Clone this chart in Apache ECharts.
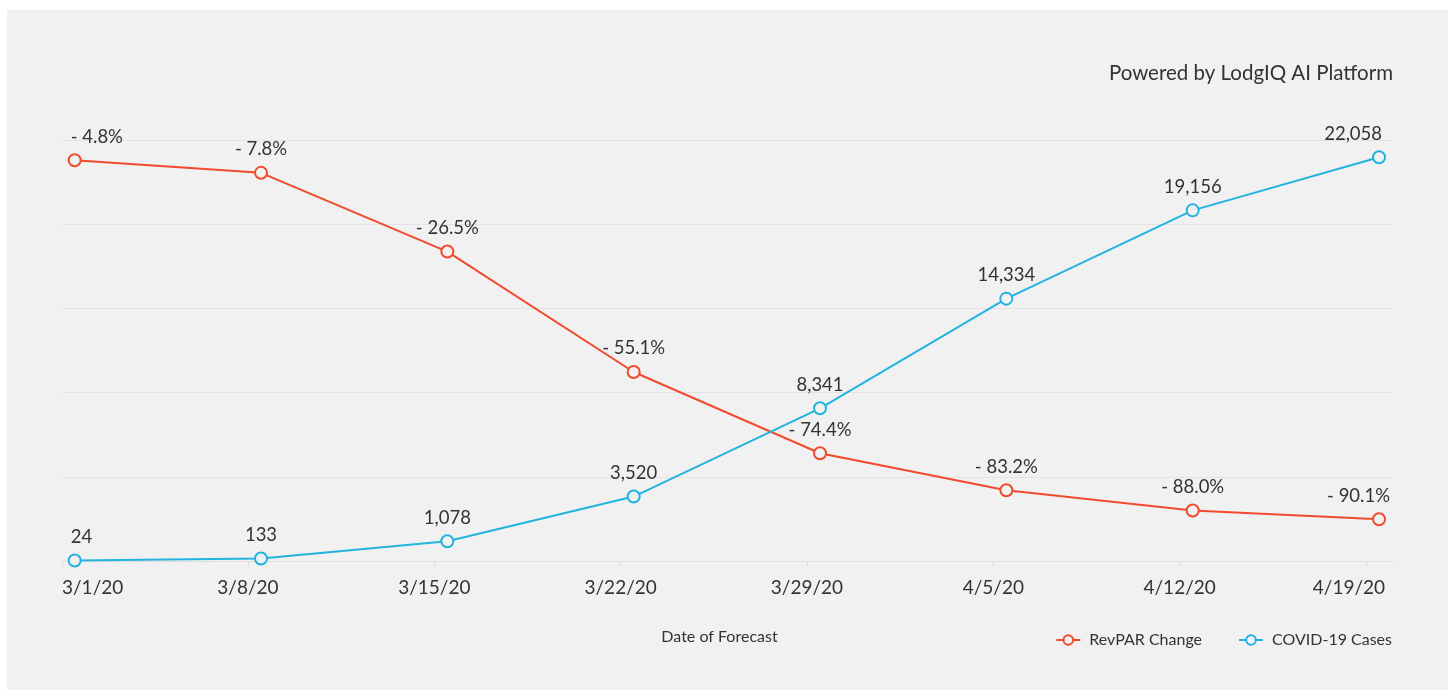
<!DOCTYPE html>
<html>
<head>
<meta charset="utf-8">
<script src="https://cdn.jsdelivr.net/npm/echarts@6/dist/echarts.min.js"></script>
<style>
  html, body { margin: 0; padding: 0; background: #ffffff; }
  #bg { position: absolute; left: 7px; top: 10px; width: 1441px; height: 680px; background: #f1f1f1; }
  #chart { position: absolute; left: 0; top: 0; width: 1448px; height: 690px; }
</style>
</head>
<body>
<div id="bg"></div>
<div id="chart"></div>
<script>
// ---- data ----
const dates = ['3/1/20', '3/8/20', '3/15/20', '3/22/20', '3/29/20', '4/5/20', '4/12/20', '4/19/20'];
const revparChange = [-4.8, -7.8, -26.5, -55.1, -74.4, -83.2, -88.0, -90.1];
const covidCases = [24, 133, 1078, 3520, 8341, 14334, 19156, 22058];

const RED = '#f14a2d';
const BLUE = '#22b3df';
const TEXT = '#333333';
const FONT = 'Lato';
const TICK_SHIFT = 0.068;

function buildData(values, lastOffset) {
  return values.map((v, i) => {
    const item = { value: [i, v] };
    if (i === 0) item.label = { align: 'left', offset: [-4, 0] };
    if (i === values.length - 1) item.label = { align: 'right', offset: [lastOffset, 0] };
    return item;
  });
}

const chart = echarts.init(document.getElementById('chart'), null, { renderer: 'canvas' });
chart.setOption({
  animation: false,
  backgroundColor: 'transparent',
  textStyle: { fontFamily: FONT, color: TEXT },
  title: {
    text: 'Powered by LodgIQ AI Platform',
    right: 50,
    top: 58,
    textStyle: { fontFamily: FONT, fontSize: 20.5, fontWeight: 'normal', color: TEXT }
  },
  legend: {
    right: 51,
    top: 627,
    itemWidth: 24,
    itemHeight: 12,
    itemGap: 36,
    textStyle: { fontFamily: FONT, fontSize: 16, color: TEXT, padding: [0, 0, 0, 4] },
    data: ['RevPAR Change', 'COVID-19 Cases']
  },
  grid: { left: 62, right: 55, top: 140, bottom: 129 },
  xAxis: {
    type: 'value',
    min: -TICK_SHIFT,
    max: 7.075,
    interval: 1,
    name: 'Date of Forecast',
    nameLocation: 'middle',
    nameGap: 68,
    nameTextStyle: { fontFamily: FONT, fontSize: 16, color: TEXT, padding: [0, 16, 0, 0] },
    axisLine: { show: true, onZero: false, lineStyle: { color: '#dedede', width: 1 } },
    axisTick: { show: true, length: 6, lineStyle: { color: '#dedede' } },
    splitLine: { show: false },
    axisLabel: {
      margin: 17,
      fontFamily: FONT,
      fontSize: 19,
      color: TEXT,
      alignMinLabel: 'left',
      showMaxLabel: false,
      rich: {
        last: { fontFamily: FONT, fontSize: 19, color: TEXT, padding: [0, 34, 0, 0] }
      },
      formatter: function (v) {
        const x = v + TICK_SHIFT;
        const i = Math.round(x);
        if (Math.abs(x - i) > 0.01) return '';
        if (i === dates.length - 1) return '{last|' + dates[i] + '}';
        return dates[i] || '';
      }
    }
  },
  yAxis: [
    {
      type: 'value',
      min: -100,
      max: 0,
      interval: 20,
      axisLine: { show: false },
      axisTick: { show: false },
      axisLabel: { show: false },
      splitLine: { show: true, lineStyle: { color: '#e3e3e3', width: 1 } }
    },
    {
      type: 'value',
      min: 0,
      max: 23000,
      axisLine: { show: false },
      axisTick: { show: false },
      axisLabel: { show: false },
      splitLine: { show: false }
    }
  ],
  series: [
    {
      name: 'RevPAR Change',
      type: 'line',
      yAxisIndex: 0,
      data: buildData(revparChange, 11),
      symbol: 'circle',
      symbolSize: 12,
      lineStyle: { color: RED, width: 2 },
      itemStyle: { color: '#f1f1f1', borderColor: RED, borderWidth: 2 },
      label: {
        show: true,
        position: 'top',
        distance: 7,
        fontFamily: FONT,
        fontSize: 18.5,
        color: TEXT,
        formatter: p => '- ' + Math.abs(p.value[1]).toFixed(1) + '%'
      },
      emphasis: { disabled: true },
      z: 3
    },
    {
      name: 'COVID-19 Cases',
      type: 'line',
      yAxisIndex: 1,
      data: buildData(covidCases, 3),
      symbol: 'circle',
      symbolSize: 12,
      lineStyle: { color: BLUE, width: 2 },
      itemStyle: { color: '#f1f1f1', borderColor: BLUE, borderWidth: 2 },
      label: {
        show: true,
        position: 'top',
        distance: 7,
        fontFamily: FONT,
        fontSize: 18.5,
        color: TEXT,
        formatter: p => p.value[1].toLocaleString('en-US')
      },
      emphasis: { disabled: true },
      z: 4
    }
  ]
});
</script>
</body>
</html>
